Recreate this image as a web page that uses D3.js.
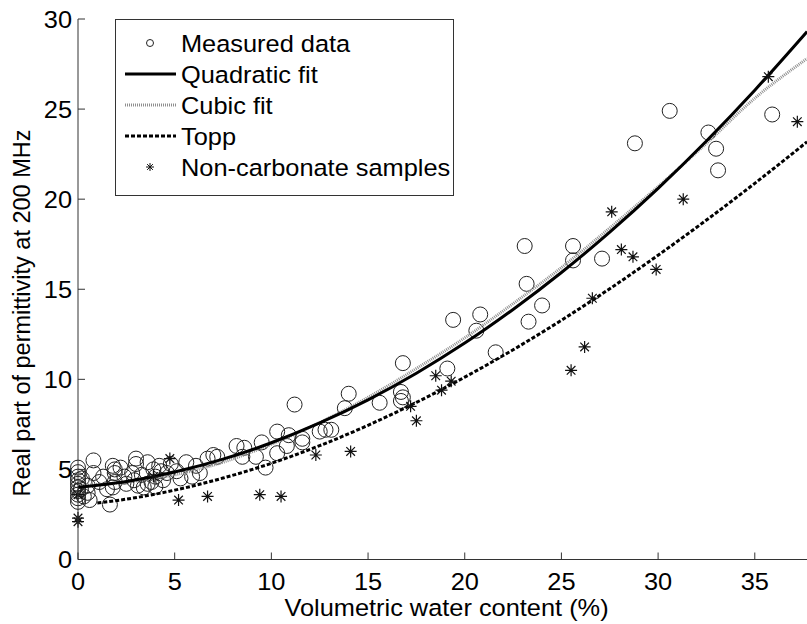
<!DOCTYPE html>
<html>
<head>
<meta charset="utf-8">
<script src="https://cdn.jsdelivr.net/npm/d3@7"></script>
<style>
  html, body { margin: 0; padding: 0; background: #fff; }
  svg { display: block; font-family: "Liberation Sans", Arial, sans-serif; }
</style>
</head>
<body>
<svg id="chart" width="807" height="624"></svg>
<script>
'use strict';

// measured (carbonate) samples
const measuredX = [0, 0, 0, 0, 0, 0, 0, 0, 0, 0, 0.15, 0.2, 0.3,
  0.8, 0.8, 0.5, 0.6, 1.1, 1.65, 1.8, 1.9, 1.9, 1.9, 1.8, 2.4, 2.5, 2.8, 2.9, 3.0, 3.0, 3.4, 3.6, 3.6, 3.8,
  4.0, 4.0, 4.2, 4.4, 4.6, 4.8, 5.1, 5.6, 5.9, 6.1, 6.3, 6.7, 7.0, 7.2,
  1.3, 2.2, 3.3, 3.9, 4.3, 5.3, 0.5, 1.5, 3.1,
  8.2, 8.6, 8.5, 9.2, 9.5, 9.7, 10.3, 10.3, 10.8, 10.9, 11.2, 11.6, 11.6, 12.5, 12.8, 13.1,
  13.8, 14.0, 15.6, 16.7, 16.8, 16.7, 16.8, 19.1, 19.4,
  20.6, 20.8, 21.6, 23.1, 23.2, 23.3, 24.0, 25.6, 25.6, 27.1, 28.8, 30.6, 32.6, 33.0, 33.1, 35.9];
const measuredY = [5.1, 4.85, 4.6, 4.4, 4.2, 4.0, 3.8, 3.6, 3.4, 3.2, 3.9, 4.5, 3.5,
  5.5, 4.8, 3.7, 3.3, 4.3, 3.05, 5.2, 5.0, 4.8, 4.3, 4.0, 4.6, 4.2, 4.8, 4.4, 5.6, 5.3, 4.0, 5.4, 4.2, 4.3,
  4.6, 4.05, 5.2, 4.4, 4.8, 5.3, 4.9, 5.4, 4.6, 5.2, 4.8, 5.6, 5.8, 5.7,
  4.6, 5.1, 4.7, 5.0, 4.9, 4.5, 4.1, 3.9, 4.1,
  6.3, 6.2, 5.7, 5.7, 6.5, 5.1, 7.1, 5.9, 6.3, 6.9, 8.6, 6.7, 6.5, 7.1, 7.2, 7.2,
  8.4, 9.2, 8.7, 9.3, 9.0, 8.8, 10.9, 10.6, 13.3,
  12.7, 13.6, 11.5, 17.4, 15.3, 13.2, 14.1, 17.4, 16.6, 16.7, 23.1, 24.9, 23.7, 22.8, 21.6, 24.7];

// non-carbonate samples
const nonCarbX = [0, 0, 0, 3.9, 4.75, 5.2, 6.7, 9.4, 10.5, 12.3, 14.1, 17.2, 17.5, 18.5, 18.8, 19.3,
  25.5, 26.2, 26.6, 27.6, 28.1, 28.7, 29.9, 31.3, 35.7, 37.2];
const nonCarbY = [2.1, 2.3, 3.6, 4.6, 5.6, 3.3, 3.5, 3.6, 3.5, 5.8, 6.0, 8.5, 7.7, 10.2, 9.4, 9.9,
  10.5, 11.8, 14.5, 19.3, 17.2, 16.8, 16.1, 20.0, 26.8, 24.3];

// fitted curves, sampled by eye
const fitX   = [0, 2.5, 5, 7.5, 10, 12.5, 15, 17.5, 20, 22.5, 25, 27.5, 30, 32.5, 35, 37.7];
const quadY  = [4.0, 4.33, 4.86, 5.57, 6.48, 7.58, 8.86, 10.34, 12.01, 13.88, 15.93, 18.17, 20.6, 23.23, 26.05, 29.3];
const cubicY = [4.1, 4.3, 4.7, 5.4, 6.4, 7.6, 9.0, 10.6, 12.3, 14.2, 16.2, 18.4, 20.7, 23.1, 25.6, 27.8];
const toppX  = [1, 2.5, 5, 7.5, 10, 12.5, 15, 17.5, 20, 22.5, 25, 27.5, 30, 32.5, 35, 37.7];
const toppY  = [3.14, 3.35, 3.85, 4.52, 5.34, 6.32, 7.45, 8.72, 10.12, 11.64, 13.28, 15.03, 16.89, 18.84, 20.88, 23.18];

const xTicks = [0, 5, 10, 15, 20, 25, 30, 35];
const yTicks = [0, 5, 10, 15, 20, 25, 30];

const legendLabels = ['Measured data', 'Quadratic fit', 'Cubic fit', 'Topp', 'Non-carbonate samples'];

const W = 807, H = 624;
const margin = { left: 78, right: 0, top: 19, bottom: 64 };
const FS = 23.5;   // font size
const SX = 1.08;   // the original text is a bit stretched sideways

const svg = d3.select('#chart');
const x = d3.scaleLinear().domain([0, 37.7]).range([margin.left, W - margin.right]);
const y = d3.scaleLinear().domain([0, 30]).range([H - margin.bottom - 0.5, margin.top]);

function label(g, txt, px, py, anchor) {
  g.append('g')
    .attr('transform', `translate(${px},${py}) scale(${SX},1)`)
    .append('text')
    .attr('text-anchor', anchor || 'start')
    .attr('font-size', FS)
    .attr('fill', '#000')
    .text(txt);
}

// clip to the plotting area (a little room on the left for markers at x = 0)
svg.append('defs').append('clipPath').attr('id', 'clip')
  .append('rect')
  .attr('x', margin.left - 12).attr('y', margin.top - 10)
  .attr('width', W - margin.left + 12).attr('height', H - margin.bottom - margin.top + 10);

const plot = svg.append('g').attr('clip-path', 'url(#clip)');

// measured circles
plot.append('g').selectAll('circle')
  .data(d3.zip(measuredX, measuredY))
  .join('circle')
  .attr('cx', d => x(d[0]))
  .attr('cy', d => y(d[1]))
  .attr('r', 7.5)
  .attr('fill', 'none')
  .attr('stroke', '#222')
  .attr('stroke-width', 1);

// star marker, like the matlab '*'
function starPath(cx, cy, r) {
  const d = r * 0.72;
  return `M${cx - r},${cy}H${cx + r}M${cx},${cy - r}V${cy + r}` +
    `M${cx - d},${cy - d}L${cx + d},${cy + d}M${cx - d},${cy + d}L${cx + d},${cy - d}`;
}

const line = d3.line().x(d => x(d[0])).y(d => y(d[1])).curve(d3.curveMonotoneX);

// cubic fit (grey, finely dotted)
plot.append('path')
  .attr('d', line(d3.zip(fitX, cubicY)))
  .attr('fill', 'none')
  .attr('stroke', '#8f8f8f')
  .attr('stroke-width', 3)
  .attr('stroke-dasharray', '1,1');

// topp (dashed)
plot.append('path')
  .attr('d', line(d3.zip(toppX, toppY)))
  .attr('fill', 'none')
  .attr('stroke', '#000')
  .attr('stroke-width', 3)
  .attr('stroke-dasharray', '4,2');

// quadratic fit (solid)
plot.append('path')
  .attr('d', line(d3.zip(fitX, quadY)))
  .attr('fill', 'none')
  .attr('stroke', '#000')
  .attr('stroke-width', 3);

// non-carbonate stars
plot.append('g').selectAll('path')
  .data(d3.zip(nonCarbX, nonCarbY))
  .join('path')
  .attr('d', d => starPath(x(d[0]), y(d[1]), 6))
  .attr('stroke', '#111')
  .attr('stroke-width', 1.2)
  .attr('fill', 'none');

// axes: only left and bottom, ticks pointing inward
const axisG = svg.append('g');
const x0 = x(0), y0 = y(0);
axisG.append('line').attr('x1', x0).attr('x2', W).attr('y1', y0).attr('y2', y0)
  .attr('stroke', '#333').attr('stroke-width', 1);
axisG.append('line').attr('x1', x0).attr('x2', x0).attr('y1', y0).attr('y2', y(30))
  .attr('stroke', '#333').attr('stroke-width', 1);

xTicks.forEach(t => {
  axisG.append('line').attr('x1', x(t)).attr('x2', x(t)).attr('y1', y0).attr('y2', y0 - 7)
    .attr('stroke', '#333');
  label(axisG, t, x(t), y0 + 30, 'middle');
});
yTicks.forEach(t => {
  axisG.append('line').attr('x1', x0).attr('x2', x0 + 7).attr('y1', y(t)).attr('y2', y(t))
    .attr('stroke', '#333');
  label(axisG, t, x0 - 6, y(t) + 8.5, 'end');
});

// axis titles
label(svg, 'Volumetric water content (%)', (x0 + W) / 2 + 4, 616, 'middle');
svg.append('text')
  .attr('transform', `translate(30,313) rotate(-90)`)
  .attr('text-anchor', 'middle')
  .attr('font-size', FS)
  .attr('fill', '#000')
  .text('Real part of permittivity at 200 MHz');

// legend
const lg = svg.append('g');
lg.append('rect')
  .attr('x', 115.5).attr('y', 19.5)
  .attr('width', 338).attr('height', 176)
  .attr('fill', '#fff')
  .attr('stroke', '#333')
  .attr('stroke-width', 1);

const rowY = [43, 74, 105, 136, 167];
legendLabels.forEach((name, i) => {
  const cy = rowY[i];
  if (i === 0) {
    lg.append('circle').attr('cx', 150).attr('cy', cy).attr('r', 3.5)
      .attr('fill', 'none').attr('stroke', '#222');
  } else if (i === 4) {
    lg.append('path').attr('d', starPath(150, cy, 4)).attr('stroke', '#111').attr('fill', 'none');
  } else {
    const st = [null,
      { c: '#000', da: null },
      { c: '#8f8f8f', da: '1,1' },
      { c: '#000', da: '4,2' }][i];
    lg.append('line').attr('x1', 125).attr('x2', 176).attr('y1', cy).attr('y2', cy)
      .attr('stroke', st.c).attr('stroke-width', 3)
      .attr('stroke-dasharray', st.da);
  }
  label(lg, name, 181, cy + 8.5, 'start');
});
</script>
</body>
</html>
